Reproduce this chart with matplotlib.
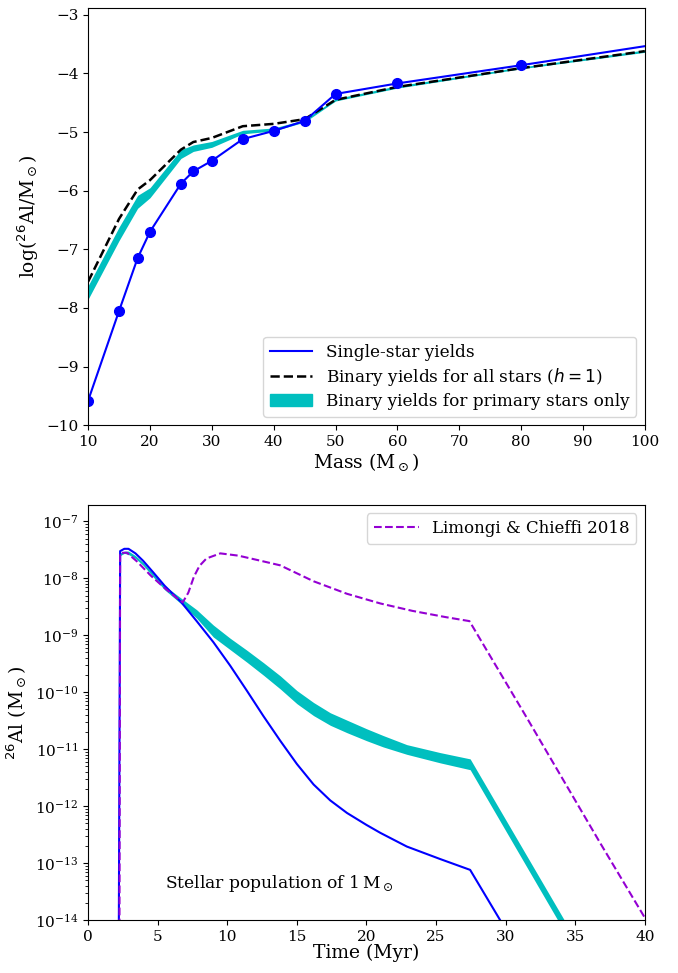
import matplotlib
matplotlib.use("Agg")
import matplotlib.pyplot as plt
from matplotlib.patches import Patch
import numpy as np

plt.rcParams['font.family'] = ['DejaVu Serif']

# --- top panel: yields vs mass ---
mass_single = [10, 15, 18, 20, 25, 27, 30, 35, 40, 45, 50, 60, 80, 120]
yield_single = [-9.58, -8.05, -7.15, -6.70, -5.88, -5.67, -5.49, -5.12, -4.98,
                -4.81, -4.35, -4.17, -3.86, -3.21]

mass_bin = [10, 15, 18, 20, 25, 27, 30, 35, 40, 45, 50, 60, 80, 100]
yield_bin_all = [-7.55, -6.48, -5.98, -5.82, -5.30, -5.17, -5.10, -4.90, -4.86,
                 -4.78, -4.45, -4.23, -3.91, -3.62]
yield_prim_hi = [-7.62, -6.62, -6.08, -5.95, -5.30, -5.22, -5.16, -4.97, -4.93,
                 -4.79, -4.43, -4.21, -3.89, -3.60]
yield_prim_lo = [-7.85, -6.85, -6.30, -6.12, -5.45, -5.33, -5.26, -5.03, -4.98,
                 -4.83, -4.47, -4.25, -3.92, -3.64]

# --- bottom panel: 26Al mass vs time (log10 values) ---
t_single = [2.2, 2.3, 2.6, 2.9, 3.4, 3.95, 4.7, 5.5, 6.7, 7.8, 9.0, 10.2, 11.4,
            12.6, 13.8, 15.0, 16.2, 17.4, 18.6, 20.0, 21.0, 22.9, 25.3, 27.45,
            29.6, 30.5]
al_single = [-14.5, -7.52, -7.48, -7.48, -7.56, -7.69, -7.90, -8.13, -8.42, -8.75,
             -9.12, -9.53, -9.97, -10.42, -10.85, -11.26, -11.62, -11.90, -12.12,
             -12.33, -12.47, -12.71, -12.93, -13.12, -14.0, -14.38]

t_bin = [2.2, 2.3, 2.6, 2.9, 3.4, 3.95, 4.7, 5.5, 6.7, 7.8, 9.0, 10.2, 11.4, 12.6,
         13.8, 15.0, 16.2, 17.4, 18.6, 20.0, 21.2, 22.9, 25.3, 27.45, 35.0]
al_bin_hi = [-14.5, -7.55, -7.52, -7.52, -7.60, -7.72, -7.92, -8.13, -8.35, -8.55,
             -8.82, -9.05, -9.26, -9.48, -9.71, -9.97, -10.18, -10.36, -10.49,
             -10.64, -10.76, -10.92, -11.06, -11.17, -14.33]
al_bin_lo = [-14.5, -7.60, -7.56, -7.58, -7.65, -7.77, -7.98, -8.20, -8.45, -8.70,
             -9.03, -9.25, -9.47, -9.70, -9.94, -10.20, -10.41, -10.58, -10.71,
             -10.85, -10.96, -11.09, -11.24, -11.36, -14.53]

t_lc = [2.25, 2.3, 2.8, 3.5, 4.5, 5.5, 6.3, 6.8, 7.2, 7.6, 8.0, 8.5, 9.5, 10.8,
        12.4, 13.8, 16.2, 18.6, 21.0, 23.3, 25.7, 27.4, 31.6, 36.8, 40.0]
al_lc = [-14.5, -7.55, -7.55, -7.70, -7.95, -8.17, -8.33, -8.42, -8.25, -7.97,
         -7.78, -7.65, -7.56, -7.60, -7.69, -7.77, -8.05, -8.27, -8.44, -8.57,
         -8.68, -8.75, -10.48, -12.65, -13.96]

fig = plt.figure(figsize=(6.78, 9.73), dpi=100)
ax1 = fig.add_axes([0.130, 0.563, 0.821, 0.429])
ax2 = fig.add_axes([0.130, 0.0545, 0.821, 0.4265])

ax1.fill_between(mass_bin, yield_prim_lo, yield_prim_hi, color='c', lw=0)
ax1.plot(mass_bin, yield_bin_all, 'k--', lw=1.8)
ax1.plot(mass_single, yield_single, color='b', lw=1.5)
ax1.plot(mass_single, yield_single, 'o', color='b', ms=7)
ax1.set_xlim(10, 100)
ax1.set_ylim(-10, -2.88)
ax1.set_yticks(range(-10, -2))
ax1.set_xlabel(r'Mass (M$_\odot$)', fontsize=13.5, labelpad=2)
ax1.set_ylabel(r'log($^{26}$Al/M$_\odot$)', fontsize=13.5)
ax1.tick_params(labelsize=11)
handles = [plt.Line2D([], [], color='b', lw=1.5),
           plt.Line2D([], [], color='k', ls='--', lw=1.8),
           Patch(color='c')]
ax1.legend(handles, ['Single-star yields',
                     r'Binary yields for all stars ($h=1$)',
                     'Binary yields for primary stars only'],
           loc='lower right', fontsize=12.2, labelspacing=0.3, handlelength=2.5)

ax2.fill_between(t_bin, 10.0 ** np.array(al_bin_lo), 10.0 ** np.array(al_bin_hi),
                 color='c', lw=0)
ax2.plot(t_single, 10.0 ** np.array(al_single), color='b', lw=1.5)
ax2.plot(t_lc, 10.0 ** np.array(al_lc), '--', color='darkviolet', lw=1.5,
         label='Limongi & Chieffi 2018')
ax2.set_yscale('log')
ax2.set_xlim(0, 40)
ax2.set_ylim(1e-14, 1.95e-7)
ax2.set_xlabel('Time (Myr)', fontsize=13.5, labelpad=0)
ax2.set_ylabel(r'$^{26}$Al (M$_\odot$)', fontsize=13.5)
ax2.tick_params(labelsize=11)
ax2.legend(loc='upper right', fontsize=12, handlelength=2.7)
ax2.text(0.138, 0.077, r'Stellar population of 1$\,$M$_\odot$',
         transform=ax2.transAxes, fontsize=12.3)

fig.savefig('out.png', dpi=100)
